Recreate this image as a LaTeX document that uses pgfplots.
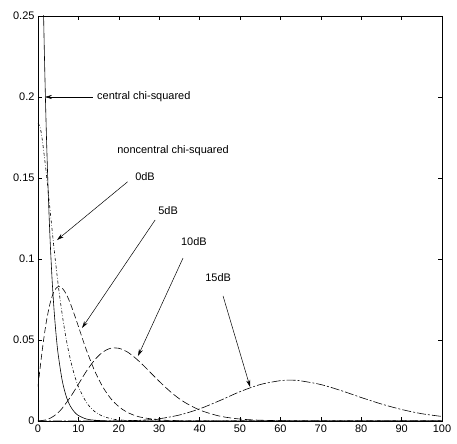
\documentclass[border=0pt]{standalone}
\usepackage{fontspec}
\setmainfont{Liberation Sans}
\usepackage{pgfplots}
\pgfplotsset{compat=1.18}
\usetikzlibrary{arrows.meta}

\begin{document}
\begin{tikzpicture}[
    lbl/.style={font=\fontsize{11}{13}\selectfont, inner sep=0pt},
    arr/.style={-{Stealth[length=7bp,width=4bp]}, line width=0.5pt}]
\begin{axis}[
    name=ax,
    scale only axis,
    width=404bp, height=405bp,
    xmin=0, xmax=100, ymin=0, ymax=0.25,
    xtick={0,10,...,100},
    ytick={0,0.05,0.1,0.15,0.2,0.25},
    scaled y ticks=false,
    yticklabel style={/pgf/number format/fixed, /pgf/number format/precision=2},
    /pgf/number format/assume math mode=true,
    tick label style={font=\fontsize{11}{13}\selectfont},
    tick align=inside,
    major tick length=4bp,
    axis line style={line width=0.5pt},
    every tick/.style={black, line width=0.5pt},
    ]
% central chi-squared
\addplot[black, line width=0.6pt, smooth] coordinates {
 (0,0.5) (0.5,0.3894) (1,0.3033) (1.5,0.2362) (2,0.1839) (2.5,0.1433)
 (3,0.1116) (3.5,0.0869) (4,0.0677) (4.5,0.0527) (5,0.0410) (6,0.0249)
 (7,0.0151) (8,0.0092) (9,0.0056) (10,0.0034) (12,0.0012) (14,0.0005)
 (16,0.0002) (20,0.0000) (100,0) };
% 0dB
\addplot[black, line width=0.6pt, dash dot, smooth] coordinates {
 (0,0.1839) (0.5,0.1814) (1,0.1747) (2,0.1542) (3,0.1299) (4,0.1059)
 (5,0.0841) (6,0.0656) (7,0.0503) (8,0.0381) (9,0.0285) (10,0.0212)
 (12,0.0114) (14,0.0059) (16,0.0030) (18,0.0015) (20,0.0007) (25,0.0001)
 (30,0.0000) (100,0) };
% 5dB
\addplot[black, line width=0.6pt, dash pattern=on 6bp off 3bp, smooth] coordinates {
 (0,0.0212) (1,0.0427) (2,0.0603) (3,0.0727) (4,0.0802) (5,0.0830)
 (6,0.0820) (7,0.0783) (8,0.0726) (9,0.0657) (10,0.0584) (11,0.0509)
 (12,0.0437) (14,0.0311) (16,0.0212) (18,0.0139) (20,0.0089) (22,0.0055)
 (25,0.0026) (30,0.0007) (35,0.0002) (40,0.0000) (100,0) };
% 10dB
\addplot[black, line width=0.6pt, dash pattern=on 8bp off 3bp, smooth] coordinates {
 (0,0.0000) (2,0.0007) (3,0.0017) (4,0.0032) (5,0.0052) (6,0.0079)
 (8,0.0147) (10,0.0227) (12,0.0308) (14,0.0376) (16,0.0425) (18,0.0449)
 (20,0.0449) (22,0.0428) (24,0.0391) (26,0.0345) (28,0.0295) (30,0.0245)
 (33,0.0176) (36,0.0120) (40,0.0068) (45,0.0030) (50,0.0012) (55,0.0005)
 (60,0.0002) (70,0.0000) (100,0) };
% 15dB
\addplot[black, line width=0.6pt, dash pattern=on 9bp off 2bp on 2bp off 2bp, smooth] coordinates {
 (0,0) (15,0.0000) (20,0.0001) (25,0.0004) (30,0.0014) (35,0.0037)
 (40,0.0075) (45,0.0126) (50,0.0181) (55,0.0225) (60,0.0249) (63,0.0252)
 (65,0.0248) (70,0.0225) (75,0.0188) (80,0.0145) (85,0.0105) (90,0.0071)
 (95,0.0045) (100,0.0028) };

\node[lbl, anchor=west] at (axis cs:14.6,0.2) {central chi-squared};
\draw[arr] (axis cs:13.6,0.2) -- (axis cs:1.7,0.2);
\node[lbl, anchor=west] at (axis cs:19.6,0.167) {noncentral chi-squared};
\node[lbl] at (axis cs:26.5,0.1506) {0dB};
\draw[arr] (axis cs:22.2,0.1477) -- (axis cs:4.7,0.1117);
\node[lbl] at (axis cs:32.2,0.130) {5dB};
\draw[arr] (axis cs:29.0,0.1241) -- (axis cs:10.9,0.0574);
\node[lbl] at (axis cs:38.6,0.1105) {10dB};
\draw[arr] (axis cs:35.9,0.1006) -- (axis cs:24.75,0.0401);
\node[lbl] at (axis cs:44.6,0.0883) {15dB};
\draw[arr] (axis cs:45.8,0.0772) -- (axis cs:52.5,0.021);
\end{axis}
\path (ax.south west) ++(-38bp,-23bp) coordinate (bl);
\path (ax.north east) ++(15bp,16bp) coordinate (tr);
\path (bl) rectangle (tr);
\end{tikzpicture}
\end{document}
